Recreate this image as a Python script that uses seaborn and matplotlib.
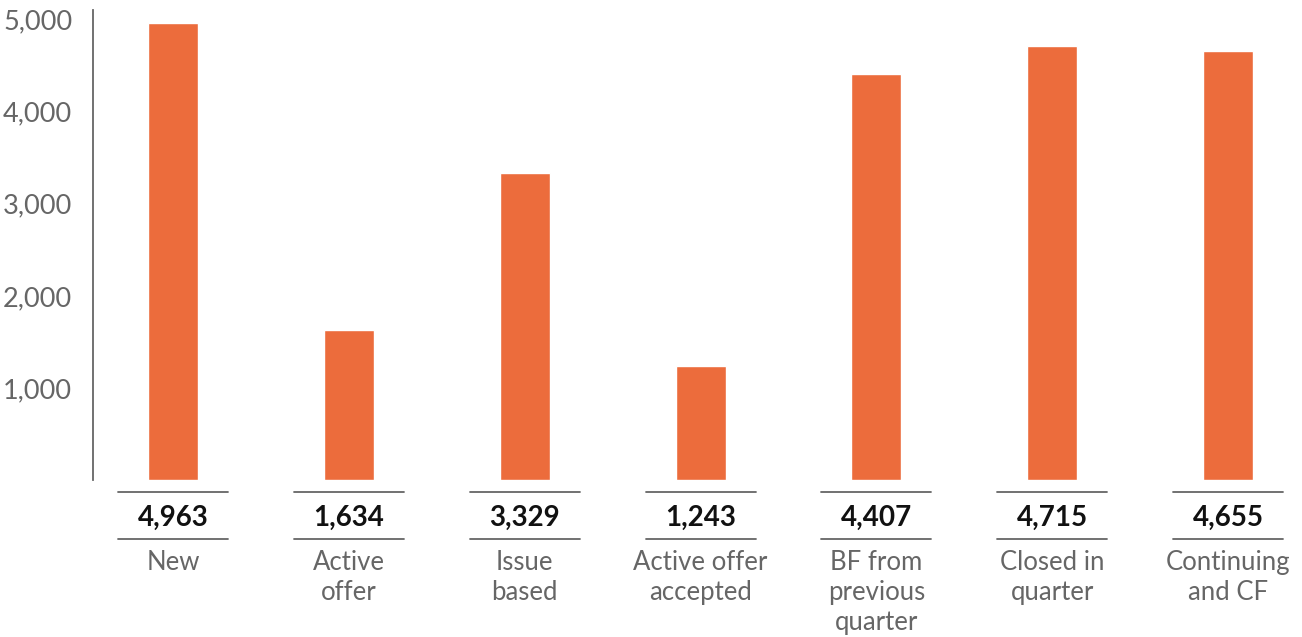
import matplotlib
matplotlib.use("Agg")
import matplotlib.pyplot as plt
import matplotlib.transforms as mtransforms
from matplotlib.lines import Line2D
from matplotlib.ticker import FuncFormatter
import pandas as pd
import seaborn as sns

# Case counts by stage
categories = [
    "New",
    "Active\noffer",
    "Issue\nbased",
    "Active offer\naccepted",
    "BF from\nprevious\nquarter",
    "Closed in\nquarter",
    "Continuing\nand CF",
]
values = [4963, 1634, 3329, 1243, 4407, 4715, 4655]
y_ticks = [1000, 2000, 3000, 4000, 5000]

BAR_COLOR = "#EC6C3C"
GREY = "#666666"

sns.set_style("white")
plt.rcParams["font.family"] = ["Lato", "DejaVu Sans"]

df = pd.DataFrame({"category": categories, "value": values})

fig = plt.figure(figsize=(13.02, 6.37), dpi=100)
ax = fig.add_axes([93 / 1302, 157 / 637, 1 - 93 / 1302, 470 / 637])

sns.barplot(data=df, x="category", y="value", color=BAR_COLOR,
            width=0.284, saturation=1, ax=ax)

ax.set_xlim(-0.455, 6.42)
ax.set_ylim(0, 5104)
ax.set_yticks(y_ticks)
ax.yaxis.set_major_formatter(FuncFormatter(lambda v, _: f"{v:,.0f}"))
ax.tick_params(axis="y", length=0, pad=15, labelsize=19.5, labelcolor=GREY)
ax.set_xticks([])
ax.set_xlabel("")
ax.set_ylabel("")

for side in ("top", "right", "bottom"):
    ax.spines[side].set_visible(False)
ax.spines["left"].set_color(GREY)
ax.spines["left"].set_linewidth(1.3)

# Value boxes and category names beneath the bars
trans = mtransforms.blended_transform_factory(ax.transData, fig.transFigure)
half = 0.313


def fig_y(px):
    return 1 - px / 637


for i, (cat, val) in enumerate(zip(categories, values)):
    for ypx in (492, 539):
        fig.add_artist(Line2D([i - half, i + half], [fig_y(ypx), fig_y(ypx)],
                              transform=trans, color=GREY, linewidth=1.3))
    fig.text(i, fig_y(518), f"{val:,}", transform=trans, ha="center",
             va="center", fontsize=20, fontweight="bold", color="#111111")
    fig.text(i, fig_y(550), cat, transform=trans, ha="center", va="top",
             fontsize=18.5, color=GREY, linespacing=1.25)

fig.savefig("out.png", dpi=100)
